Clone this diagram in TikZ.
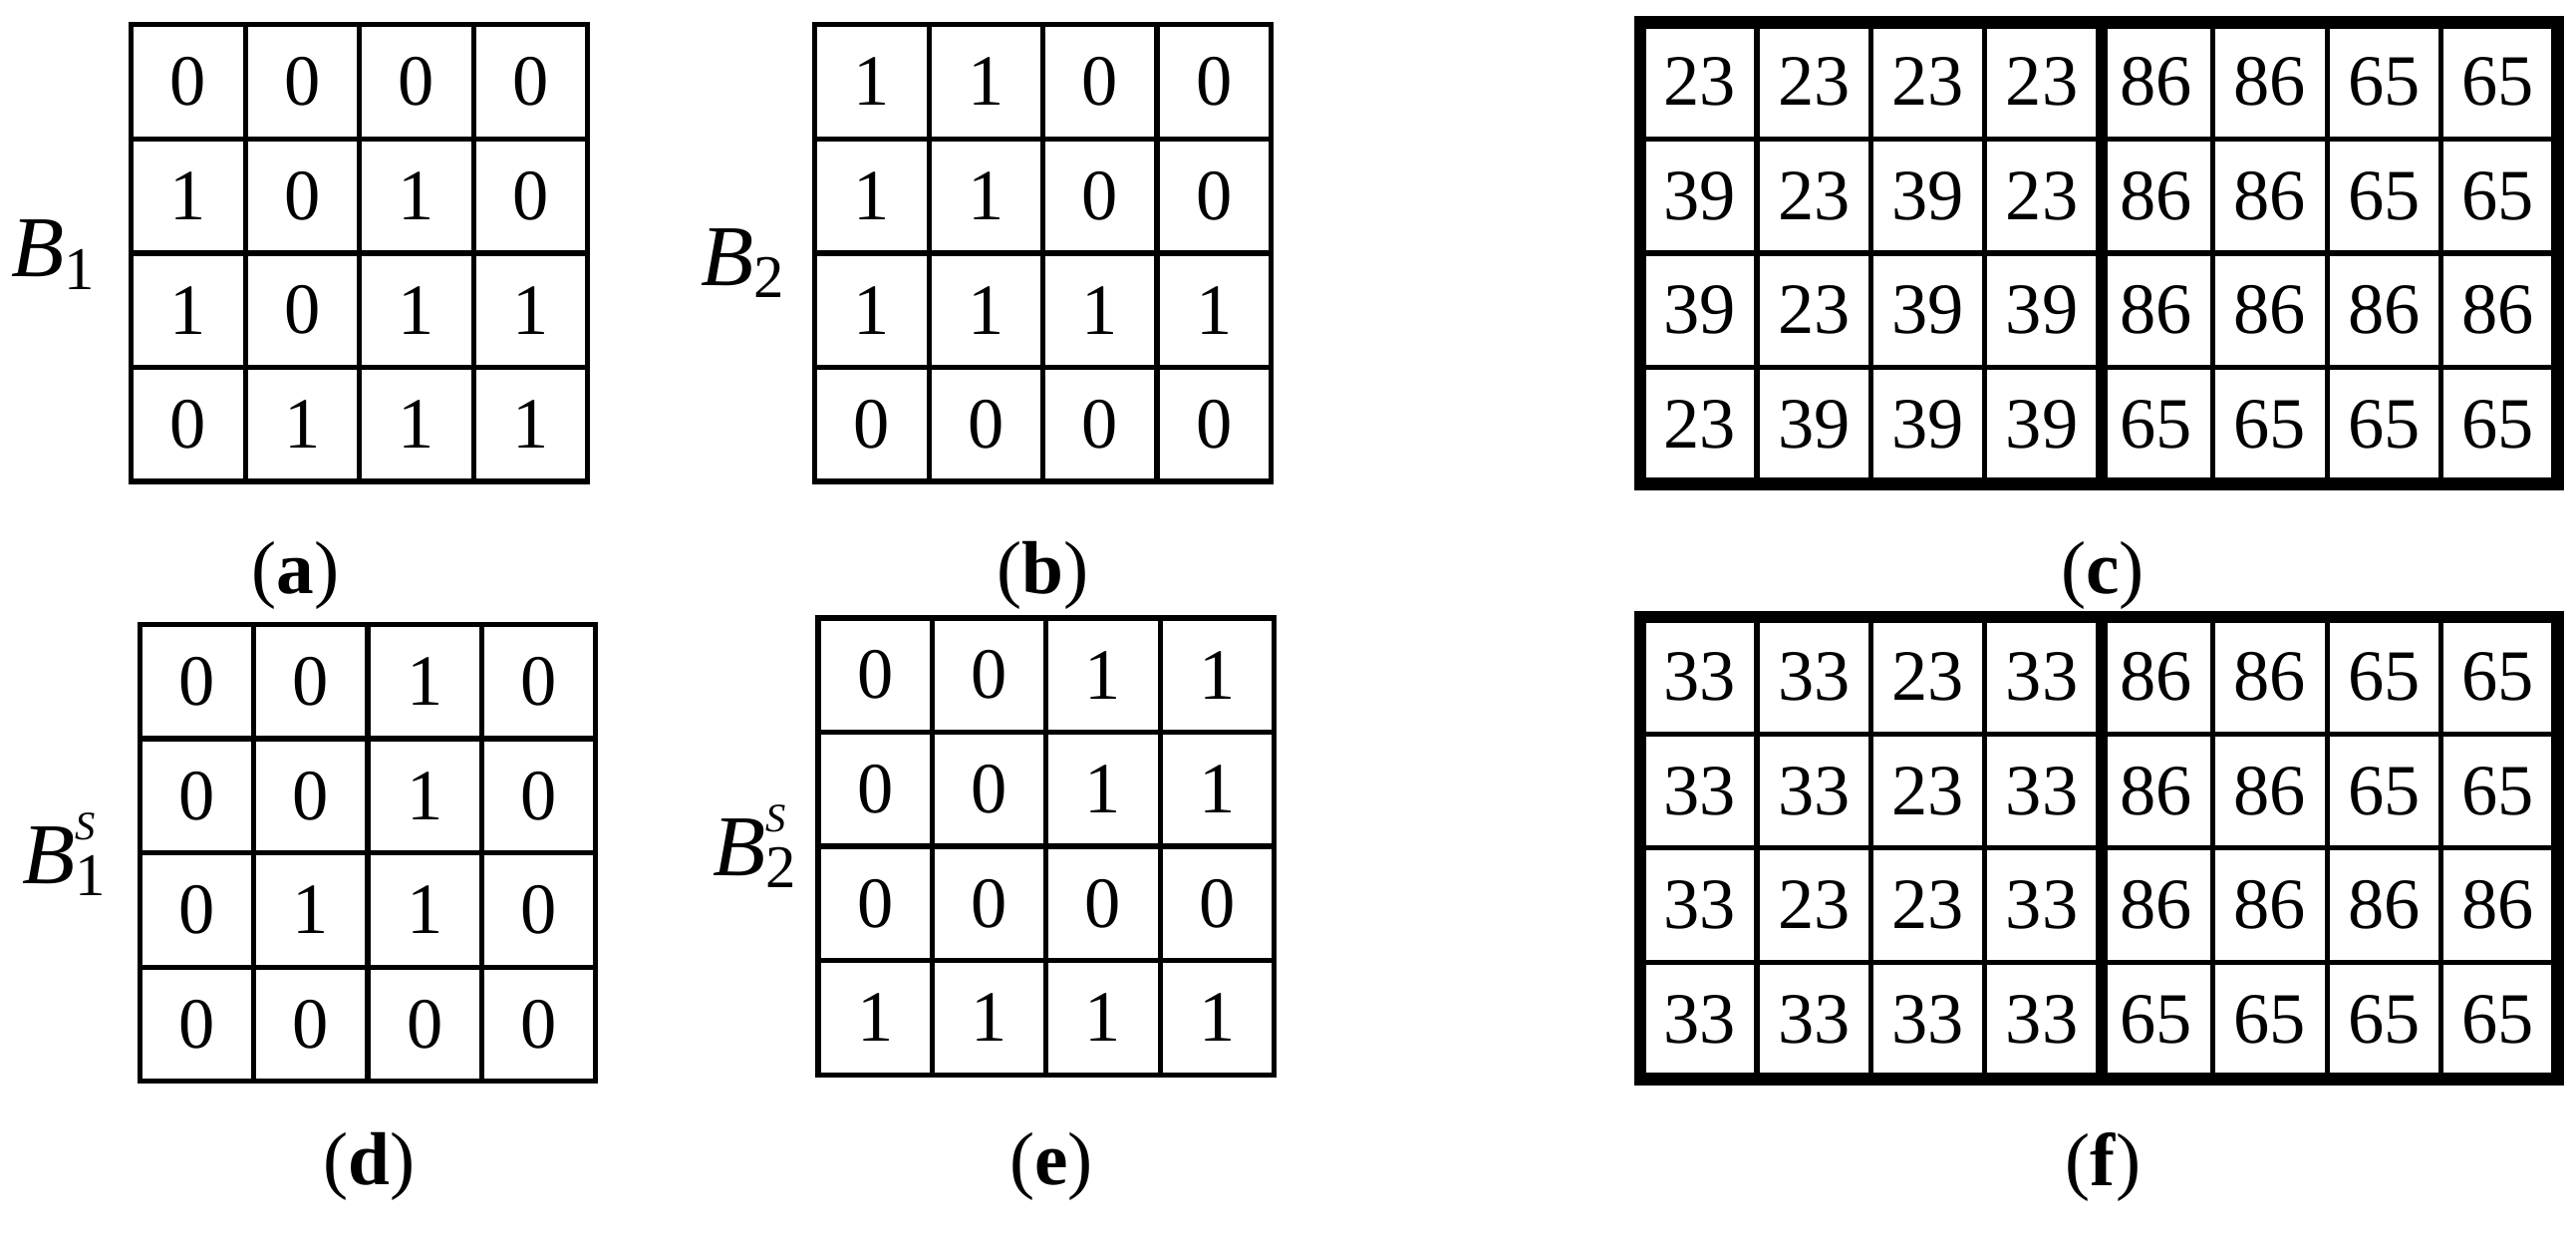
\documentclass[tikz,border=0pt]{standalone}
\usepackage{fontspec}
\setmainfont{Liberation Serif}
\usetikzlibrary{positioning}

\tikzset{
  cell/.style={draw, line width=0.9pt, minimum width=0.694cm, minimum height=0.695cm,
    inner sep=0pt, font=\fontsize{12.5}{14}\selectfont},
  mlabel/.style={font=\fontsize{15}{17}\selectfont\itshape, inner sep=1pt},
  subcap/.style={font=\fontsize{13}{15}\selectfont},
  frame/.style={draw, line width=2.2pt}
}

% grid of cells: name, x0, y0 (top-left, in 0.01cm), rows
\newcommand{\cellgrid}[4]{%
  \foreach \row [count=\r] in {#4} {
    \foreach \v [count=\c] in \row {
      \node[cell] (#1-\r-\c) at ({(#2+69.4*(\c-0.5))/100},{-(#3+69.5*(\r-0.5))/100}) {\v};
    }
  }
}

\begin{document}
\begin{tikzpicture}
\useasboundingbox (0,0) rectangle (15.68,-7.58);

% top row
\cellgrid{a}{80}{15}{{0,0,0,0},{1,0,1,0},{1,0,1,1},{0,1,1,1}}
\node[mlabel] (la) at (0.33,-1.55) {B\textsubscript{\upshape 1}};
\node[subcap] (ca) at (1.8,-3.5) {(\textbf{a})};

\cellgrid{b}{496}{15}{{1,1,0,0},{1,1,0,0},{1,1,1,1},{0,0,0,0}}
\node[mlabel] (lb) at (4.53,-1.6) {B\textsubscript{\upshape 2}};
\node[subcap] (cb) at (6.35,-3.5) {(\textbf{b})};

\cellgrid{c}{1000}{15}{{23,23,23,23,86,86,65,65},{39,23,39,23,86,86,65,65},{39,23,39,39,86,86,86,86},{23,39,39,39,65,65,65,65}}
\draw[frame] (c-1-1.north west) rectangle (c-4-8.south east);
\draw[frame] (c-1-4.north east) -- (c-4-4.south east);
\node[subcap] (cc) at (12.8,-3.5) {(\textbf{c})};

% bottom row
\cellgrid{d}{85}{380}{{0,0,1,0},{0,0,1,0},{0,1,1,0},{0,0,0,0}}
\node[mlabel] (ld) at (0.4,-5.2) {B\makebox[0pt][l]{\raisebox{1.1ex}{\scriptsize S}}\textsubscript{\upshape 1}};
\node[subcap] (cd) at (2.25,-7.1) {(\textbf{d})};

\cellgrid{e}{498}{376}{{0,0,1,1},{0,0,1,1},{0,0,0,0},{1,1,1,1}}
\node[mlabel] (le) at (4.6,-5.15) {B\makebox[0pt][l]{\raisebox{1.1ex}{\scriptsize S}}\textsubscript{\upshape 2}};
\node[subcap] (ce) at (6.4,-7.1) {(\textbf{e})};

\cellgrid{f}{1000}{377}{{33,33,23,33,86,86,65,65},{33,33,23,33,86,86,65,65},{33,23,23,33,86,86,86,86},{33,33,33,33,65,65,65,65}}
\draw[frame] (f-1-1.north west) rectangle (f-4-8.south east);
\draw[frame] (f-1-4.north east) -- (f-4-4.south east);
\node[subcap] (cf) at (12.8,-7.1) {(\textbf{f})};
\end{tikzpicture}
\end{document}
